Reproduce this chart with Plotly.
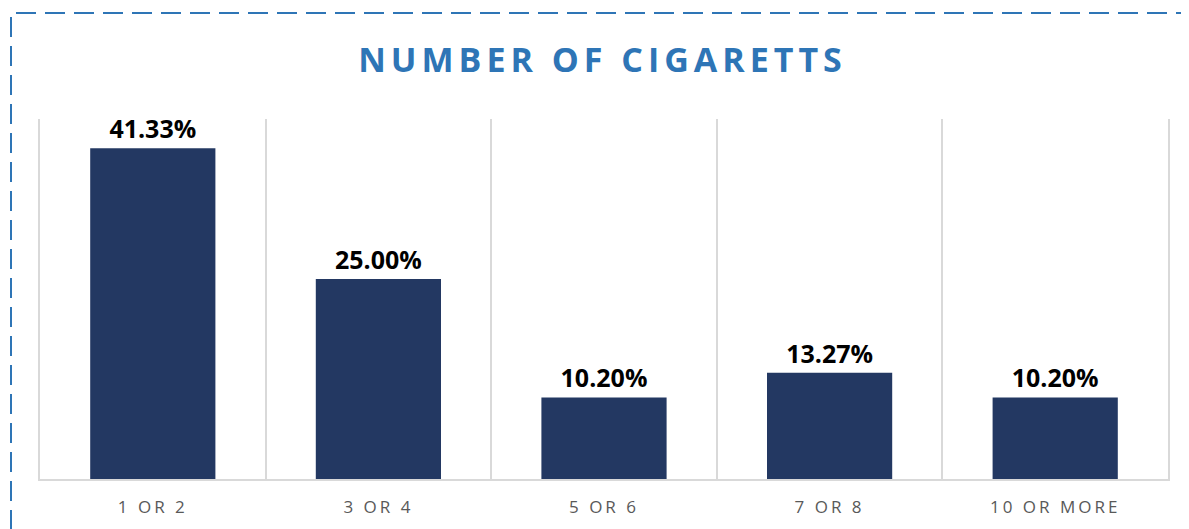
import plotly.graph_objects as go

categories = ["1 OR 2", "3 OR 4", "5 OR 6", "7 OR 8", "10 OR MORE"]
values = [41.33, 25.00, 10.20, 13.27, 10.20]
labels = ["41.33%", "25.00%", "10.20%", "13.27%", "10.20%"]
title_text = "NUMBER OF CIGARETTS"

OFF = 8  # page body margin
W, H = 1189, 529
L, T = 40 - OFF, 119 - OFF
pw, ph = 1128, 360
R = W - L - pw
B = H - T - ph

def px_x(px):
    return (px - OFF - L) / pw

def px_y(py):
    return (T + ph - (py - OFF)) / ph

fig = go.Figure()
fig.add_trace(go.Bar(
    x=categories, y=values, text=labels, textposition="outside",
    marker=dict(color="#233862", line=dict(width=0)),
    textfont=dict(family="Open Sans", size=25, color="#000000", weight="bold"),
    cliponaxis=False, width=0.555,
))

fig.update_layout(
    width=W, height=H,
    margin=dict(l=L, r=R, t=T, b=B),
    paper_bgcolor="white", plot_bgcolor="white",
    showlegend=False,
    title=dict(
        text='<span style="letter-spacing:5px">' + title_text + '</span>',
        x=0.5, xanchor="center", y=1 - (60 - OFF) / H, yanchor="middle",
        font=dict(family="Open Sans", size=34, color="#2E75B6", weight="bold"),
    ),
    xaxis=dict(
        type="category", tickson="boundaries", showgrid=True,
        gridcolor="#D9D9D9", gridwidth=1.5,
        showline=True, linecolor="#D9D9D9", linewidth=1.5,
        ticks="", ticklen=0, ticklabelstandoff=12,
        tickvals=categories,
        ticktext=['<span style="letter-spacing:3px">' + c + '</span>' for c in categories],
        tickfont=dict(family="Open Sans", size=17, color="#595959"),
    ),
    yaxis=dict(range=[0, 45], showticklabels=False, ticks="", showgrid=False,
               zeroline=False, showline=True, mirror=True,
               linecolor="#D9D9D9", linewidth=1.5),
)

fig.add_shape(
    type="rect", xref="paper", yref="paper",
    x0=px_x(11), x1=px_x(1200), y0=px_y(560), y1=px_y(13),
    line=dict(color="#2E75B6", width=2, dash="20px,9px"),
    fillcolor="rgba(0,0,0,0)", layer="above",
)

fig.write_html("out.html")
